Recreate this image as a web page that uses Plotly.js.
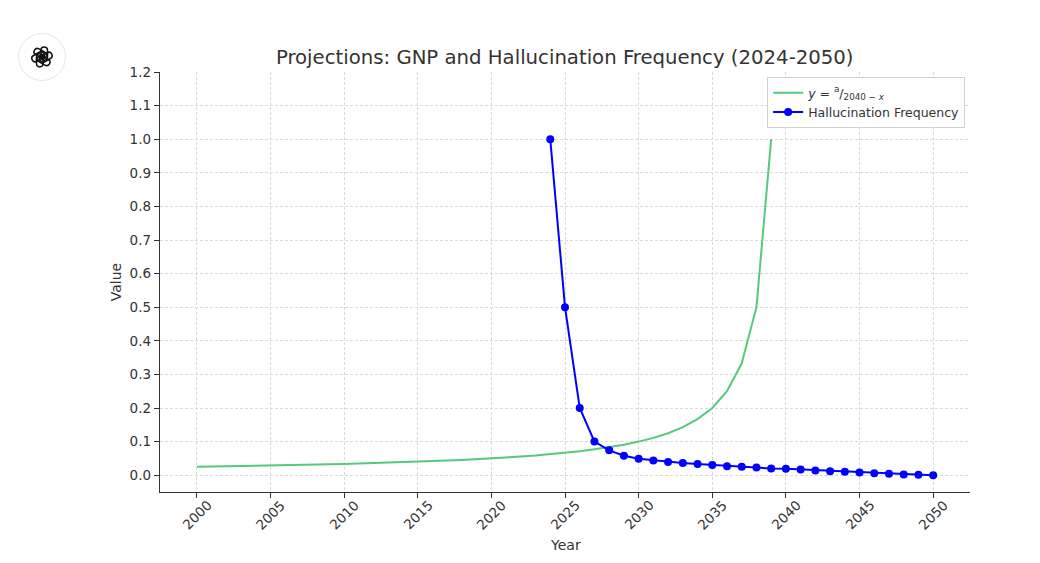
<!DOCTYPE html>
<html><head><meta charset="utf-8">
<script src="https://cdn.plot.ly/plotly-3.0.1.min.js"></script>
<style>body{margin:0;background:#fff}#chart{width:1040px;height:563px}</style>
</head><body><div id="chart"></div>
<script>
// Green curve y = a/(2040 - x)
const gnpYears = [2000,2001,2002,2003,2004,2005,2006,2007,2008,2009,2010,2011,2012,2013,2014,2015,2016,2017,2018,2019,2020,2021,2022,2023,2024,2025,2026,2027,2028,2029,2030,2031,2032,2033,2034,2035,2036,2037,2038,2039];
const gnpValues = [0.025,0.0256,0.0263,0.027,0.0278,0.0286,0.0294,0.0303,0.0313,0.0323,0.0333,0.0345,0.0357,0.037,0.0385,0.04,0.0417,0.0435,0.0455,0.0476,0.05,0.0526,0.0556,0.0588,0.0625,0.0667,0.0714,0.0769,0.0833,0.0909,0.1,0.111,0.125,0.143,0.167,0.2,0.25,0.333,0.5,1.0];
// Hallucination frequency
const halYears = [2024,2025,2026,2027,2028,2029,2030,2031,2032,2033,2034,2035,2036,2037,2038,2039,2040,2041,2042,2043,2044,2045,2046,2047,2048,2049,2050];
const halValues = [1.0,0.5,0.2,0.1,0.074,0.058,0.049,0.044,0.039,0.036,0.033,0.030,0.027,0.025,0.023,0.020,0.019,0.017,0.014,0.012,0.010,0.008,0.006,0.004,0.002,0.001,0.0];
const xTicks = [2000,2005,2010,2015,2020,2025,2030,2035,2040,2045,2050];
const yTicks = [0,0.1,0.2,0.3,0.4,0.5,0.6,0.7,0.8,0.9,1.0,1.1,1.2];

// logo svg
let loops = '';
for (let i = 0; i < 6; i++) {
  loops += `<rect x="-1.0" y="-9.0" width="6.0" height="12.0" rx="3.0" transform="rotate(${i*60})" fill="none" stroke="#111" stroke-width="1.4"/>`;
}
const logo = 'data:image/svg+xml;utf8,' + encodeURIComponent(
  `<svg xmlns="http://www.w3.org/2000/svg" viewBox="-24 -24 48 48"><circle cx="0" cy="0" r="23.5" fill="#fff" stroke="#e6e6e6" stroke-width="1"/><g transform="scale(1.1)">${loops}</g></svg>`);

const font = 'DejaVu Sans, sans-serif';
const traces = [
  {x: gnpYears, y: gnpValues, mode: 'lines', name: '<i>y</i> = <sup>a</sup>/<sub>2040 − <i>x</i></sub>',
   line: {color: '#58c87c', width: 2}},
  {x: halYears, y: halValues, mode: 'lines+markers', name: 'Hallucination Frequency',
   line: {color: '#0000ff', width: 2}, marker: {color: '#0000ff', size: 8}}
];
// rotated x tick labels centred on their ticks (as in the reference)
const annotations = xTicks.map(t => ({
  x: t, xref: 'x', y: 0, yref: 'paper', yshift: -23, text: String(t), showarrow: false,
  textangle: -45, xanchor: 'center', yanchor: 'middle', font: {size: 13.5, color: '#333'}
}));
annotations.push({x: 0.5, xref: 'paper', y: 0, yref: 'paper', yshift: -53, text: 'Year', showarrow: false,
  xanchor: 'center', yanchor: 'middle', font: {size: 14, color: '#333'}});

const layout = {
  width: 1040, height: 563,
  margin: {l: 160, r: 70, t: 72, b: 71},
  paper_bgcolor: '#fff', plot_bgcolor: '#fff',
  font: {family: font, color: '#333', size: 13},
  title: {text: 'Projections: GNP and Hallucination Frequency (2024-2050)', font: {size: 19.7, color: '#333'}, x: 0.543, xanchor: 'center', y: 0.898, yanchor: 'middle'},
  xaxis: {range: [1997.5, 2052.5], tickvals: xTicks, showticklabels: false,
    showgrid: true, gridcolor: '#dadada', griddash: '3px,2px', gridwidth: 1,
    showline: true, linecolor: '#333', linewidth: 1.2, ticks: 'outside', ticklen: 5, tickcolor: '#333',
    zeroline: false},
  yaxis: {range: [-0.05, 1.2], tickvals: yTicks, ticktext: yTicks.map(v => v.toFixed(1)),
    showgrid: true, gridcolor: '#dadada', griddash: '3px,2px', gridwidth: 1,
    showline: true, linecolor: '#333', linewidth: 1.2, ticks: 'outside', ticklen: 5, tickcolor: '#333',
    zeroline: false, tickfont: {size: 13.5, color: '#333'},
    title: {text: 'Value', font: {size: 14, color: '#333'}, standoff: 4}},
  legend: {x: 0.994, xanchor: 'right', y: 0.988, yanchor: 'top', bgcolor: 'rgba(255,255,255,0.9)',
    bordercolor: '#d0d0d0', borderwidth: 1, font: {size: 12.5, color: '#333'}, tracegroupgap: 0},
  showlegend: true,
  annotations: annotations,
  images: [{source: logo, xref: 'paper', yref: 'paper', x: (18-160)/810, y: 1 - (33-72)/420,
    sizex: 48/810, sizey: 48/420, xanchor: 'left', yanchor: 'top', sizing: 'stretch', layer: 'above'}]
};
Plotly.newPlot('chart', traces, layout, {displayModeBar: false, staticPlot: true});
</script></body></html>
